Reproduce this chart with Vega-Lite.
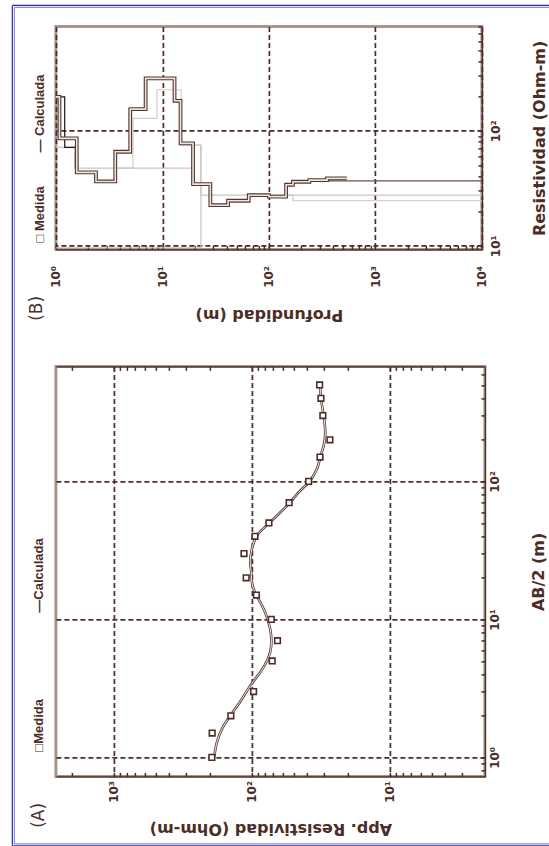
{
  "$schema": "https://vega.github.io/schema/vega-lite/v6.json",
  "background": "white",
  "padding": {"left": 9.9, "top": 2.4, "right": 0, "bottom": 0},
  "autosize": {"type": "pad"},
  "bounds": "flush",
  "spacing": 117,
  "config": {
    "view": {"stroke": "#a8958f", "strokeWidth": 3},
    "axis": {
      "labelFont": "DejaVu Sans", "labelFontWeight": "bold", "labelFontSize": 12, "labelColor": "#4b2d28",
      "titleFont": "DejaVu Sans", "titleFontWeight": "bold", "titleFontSize": 16, "titleColor": "#4b2d28",
      "tickColor": "#4b2d28", "tickWidth": 1.5, "domainColor": "#4b2d28", "domainWidth": 1.2,
      "gridColor": "#4b2d28", "gridDash": [5, 3], "gridWidth": 1.7, "labelOverlap": false
    }
  },
  "datasets": {
    "medida": [
      {"ab": 1, "rho": 195}, {"ab": 1.5, "rho": 194}, {"ab": 2, "rho": 142}, {"ab": 3, "rho": 97.2},
      {"ab": 5, "rho": 71.3}, {"ab": 7, "rho": 65.2}, {"ab": 10, "rho": 72.4}, {"ab": 15, "rho": 92.7},
      {"ab": 20, "rho": 110}, {"ab": 30, "rho": 114}, {"ab": 40, "rho": 95}, {"ab": 50, "rho": 75.3},
      {"ab": 70, "rho": 53.7}, {"ab": 100, "rho": 38.8}, {"ab": 150, "rho": 32.1}, {"ab": 200, "rho": 27.2},
      {"ab": 300, "rho": 30.6}, {"ab": 400, "rho": 31.6}, {"ab": 500, "rho": 32.3}
    ],
    "calculada": [
      {"ab": 1, "rho": 188}, {"ab": 1.28, "rho": 179.5}, {"ab": 1.6, "rho": 165}, {"ab": 2, "rho": 143.5},
      {"ab": 2.65, "rho": 118}, {"ab": 3.31, "rho": 102.7}, {"ab": 4.13, "rho": 87}, {"ab": 5.16, "rho": 76.6},
      {"ab": 6.45, "rho": 72.4}, {"ab": 8.5, "rho": 73.7}, {"ab": 11.2, "rho": 80.1}, {"ab": 14, "rho": 89.5},
      {"ab": 17.5, "rho": 98.9}, {"ab": 21.9, "rho": 101}, {"ab": 25.9, "rho": 102.8}, {"ab": 32.3, "rho": 100},
      {"ab": 40.4, "rho": 92}, {"ab": 49.4, "rho": 75.7}, {"ab": 69.3, "rho": 53.7}, {"ab": 83.2, "rho": 45.9},
      {"ab": 98.4, "rho": 38.8}, {"ab": 123, "rho": 33.8}, {"ab": 149, "rho": 32}, {"ab": 181, "rho": 30.2},
      {"ab": 227, "rho": 29.4}, {"ab": 299, "rho": 30.2}, {"ab": 395, "rho": 31.5}, {"ab": 480, "rho": 32}
    ],
    "banda": [
      {"prof": 1, "rho": 197}, {"prof": 1.08, "rho": 85.7}, {"prof": 1.57, "rho": 43.4}, {"prof": 2.38, "rho": 36.2},
      {"prof": 3.61, "rho": 65.6}, {"prof": 4.99, "rho": 154}, {"prof": 6.96, "rho": 285}, {"prof": 13, "rho": 182},
      {"prof": 14.8, "rho": 77.6}, {"prof": 19.4, "rho": 34.3}, {"prof": 28.2, "rho": 22.5}, {"prof": 41.4, "rho": 24.6},
      {"prof": 64.7, "rho": 27.5}, {"prof": 100, "rho": 26.7}, {"prof": 145, "rho": 33.9}, {"prof": 168, "rho": 36},
      {"prof": 240, "rho": 37.2}, {"prof": 352, "rho": 38.5}, {"prof": 538, "rho": 38.5}
    ],
    "modelos": [
      {"modelo": "G1", "prof": 1, "rho": 71.6}, {"modelo": "G1", "prof": 1.5, "rho": 47.3}, {"modelo": "G1", "prof": 19.4, "rho": 75},
      {"modelo": "G1", "prof": 23, "rho": 27.5}, {"modelo": "G1", "prof": 10000, "rho": 27.5},
      {"modelo": "G2", "prof": 1, "rho": 9.6}, {"modelo": "G2", "prof": 23, "rho": 75},
      {"modelo": "G3", "prof": 3.6, "rho": 47.3}, {"modelo": "G3", "prof": 5.3, "rho": 128}, {"modelo": "G3", "prof": 8.9, "rho": 227},
      {"modelo": "G3", "prof": 15, "rho": 75}, {"modelo": "G3", "prof": 23, "rho": 75},
      {"modelo": "G4", "prof": 100, "rho": 27.5}, {"modelo": "G4", "prof": 168, "rho": 24.6}, {"modelo": "G4", "prof": 10000, "rho": 24.6},
      {"modelo": "negro", "prof": 1, "rho": 197}, {"modelo": "negro", "prof": 1.21, "rho": 71.6}, {"modelo": "negro", "prof": 1.57, "rho": 71.6},
      {"modelo": "fino", "prof": 168, "rho": 36.7}, {"modelo": "fino", "prof": 10000, "rho": 36.7}
    ]
  },
  "vconcat": [
    {
      "width": 426,
      "height": 223,
      "resolve": {"axis": {"x": "independent", "y": "independent"}},
      "layer": [
        {
          "data": {"name": "modelos"},
          "mark": {"type": "line", "interpolate": "step-after", "strokeWidth": 1.2},
          "encoding": {
            "x": {
              "field": "prof", "type": "quantitative",
              "scale": {"type": "log", "domain": [1, 10000]},
              "axis": {
                "orient": "bottom",
                "values": [1,2,3,4,5,6,7,8,9,10,20,30,40,50,60,70,80,90,100,200,300,400,500,600,700,800,900,1000,2000,3000,4000,5000,6000,7000,8000,9000,10000],
                "labelExpr": "datum.value == 1 ? '10⁰' : datum.value == 10 ? '10¹' : datum.value == 100 ? '10²' : datum.value == 1000 ? '10³' : datum.value == 10000 ? '10⁴' : ''",
                "labelAngle": 270, "labelAlign": "right", "labelBaseline": "middle",
                "tickSize": -4, "labelPadding": 20,
                "grid": true,
                "gridOpacity": {"condition": {"test": "indexof([1,10,100,1000,10000], datum.value) >= 0", "value": 1}, "value": 0},
                "title": "Profundidad (m)", "titleAngle": 180, "titleBaseline": "middle", "titleY": 65
              }
            },
            "y": {
              "field": "rho", "type": "quantitative",
              "scale": {"type": "log", "domain": [9.29, 807]},
              "axis": {
                "orient": "right",
                "values": [10,20,30,40,50,60,70,80,90,100,200,300,400,500,600,700,800],
                "labelExpr": "datum.value == 10 ? '10¹' : datum.value == 100 ? '10²' : ''",
                "labelAngle": 270, "labelAlign": "center", "labelBaseline": "top",
                "tickSize": -4, "labelPadding": 13,
                "grid": true,
                "gridOpacity": {"condition": {"test": "indexof([1,10,100,1000,10000], datum.value) >= 0", "value": 1}, "value": 0},
                "title": "Resistividad (Ohm-m)", "titleAngle": 270, "titleBaseline": "middle", "titleX": 58
              }
            },
            "color": {
              "field": "modelo", "type": "nominal",
              "scale": {"domain": ["G1", "G2", "G3", "G4", "negro", "fino"], "range": ["#cbc3c1", "#cbc3c1", "#d3cccb", "#cbc3c1", "#1e1412", "#6b514c"]},
              "legend": null
            }
          }
        },
        {
          "data": {"name": "banda"},
          "mark": {"type": "line", "interpolate": "step-after", "strokeWidth": 3.8, "color": "#55362f"},
          "encoding": {
            "x": {"field": "prof", "type": "quantitative", "scale": {"type": "log", "domain": [1, 10000]}, "axis": null},
            "y": {"field": "rho", "type": "quantitative", "scale": {"type": "log", "domain": [9.29, 807]}, "axis": null}
          }
        },
        {
          "data": {"name": "banda"},
          "mark": {"type": "line", "interpolate": "step-after", "strokeWidth": 1.6, "color": "#ece4e2"},
          "encoding": {
            "x": {"field": "prof", "type": "quantitative", "scale": {"type": "log", "domain": [1, 10000]}, "axis": null},
            "y": {"field": "rho", "type": "quantitative", "scale": {"type": "log", "domain": [9.29, 807]}, "axis": null}
          }
        },
        {
          "data": {"values": [{}]},
          "mark": {"type": "text", "text": "□ Medida", "angle": 270, "align": "center", "baseline": "middle", "font": "Liberation Sans", "fontWeight": "bold", "fontSize": 13, "color": "#4b2d28"},
          "encoding": {
            "x": {"datum": 0.715, "type": "quantitative", "scale": {"type": "log", "domain": [1, 10000]}, "axis": null},
            "y": {"datum": 18.7, "type": "quantitative", "scale": {"type": "log", "domain": [9.29, 807]}, "axis": null}
          }
        },
        {
          "data": {"values": [{}]},
          "mark": {"type": "text", "text": "— Calculada", "angle": 270, "align": "center", "baseline": "middle", "font": "Liberation Sans", "fontWeight": "bold", "fontSize": 13, "color": "#4b2d28"},
          "encoding": {
            "x": {"datum": 0.715, "type": "quantitative", "scale": {"type": "log", "domain": [1, 10000]}, "axis": null},
            "y": {"datum": 141, "type": "quantitative", "scale": {"type": "log", "domain": [9.29, 807]}, "axis": null}
          }
        },
        {
          "data": {"values": [{}]},
          "mark": {"type": "text", "text": "(B)", "angle": 270, "align": "center", "baseline": "middle", "font": "DejaVu Sans", "fontSize": 17, "color": "#4b2d28"},
          "encoding": {
            "x": {"datum": 0.663, "type": "quantitative", "scale": {"type": "log", "domain": [1, 10000]}, "axis": null},
            "y": {"datum": 2.85, "type": "quantitative", "scale": {"type": "log", "domain": [9.29, 807]}, "axis": null}
          }
        },
        {
          "data": {"values": [{}]},
          "mark": {"type": "rule", "color": "#2a2ab5", "strokeWidth": 1.2},
          "encoding": {
            "x": {"datum": 0.39, "type": "quantitative", "scale": {"type": "log", "domain": [1, 10000]}, "axis": null},
            "x2": {"datum": 44460},
            "y": {"datum": 1229, "type": "quantitative", "scale": {"type": "log", "domain": [9.29, 807]}, "axis": null}
          }
        },
        {
          "data": {"values": [{}]},
          "mark": {"type": "rule", "color": "#8f88da", "strokeWidth": 1.2},
          "encoding": {
            "x": {"datum": 0.41, "type": "quantitative", "scale": {"type": "log", "domain": [1, 10000]}, "axis": null},
            "x2": {"datum": 44460},
            "y": {"datum": 1181, "type": "quantitative", "scale": {"type": "log", "domain": [9.29, 807]}, "axis": null}
          }
        }
      ]
    },
    {
      "width": 429,
      "height": 410,
      "resolve": {"axis": {"x": "independent", "y": "independent"}},
      "layer": [
        {
          "data": {"values": [{}]},
          "mark": {"type": "rule", "color": "#2a2ab5", "strokeWidth": 1.2},
          "encoding": {
            "x": {"datum": 5440, "type": "quantitative", "scale": {"type": "log", "domain": [2.05, 2630], "reverse": true}, "axis": null},
            "y": {"datum": 281000, "type": "quantitative", "scale": {"type": "log", "domain": [0.728, 681]}, "axis": null},
            "y2": {"datum": 0.2284}
          }
        },
        {
          "data": {"values": [{}]},
          "mark": {"type": "rule", "color": "#8f88da", "strokeWidth": 1.2},
          "encoding": {
            "x": {"datum": 5260, "type": "quantitative", "scale": {"type": "log", "domain": [2.05, 2630], "reverse": true}, "axis": null},
            "y": {"datum": 272200, "type": "quantitative", "scale": {"type": "log", "domain": [0.728, 681]}, "axis": null},
            "y2": {"datum": 0.2361}
          }
        },
        {
          "data": {"values": [{}]},
          "mark": {"type": "rule", "color": "#2a2ab5", "strokeWidth": 1.2},
          "encoding": {
            "x": {"datum": 5440, "type": "quantitative", "scale": {"type": "log", "domain": [2.05, 2630], "reverse": true}, "axis": null},
            "x2": {"datum": 0.681},
            "y": {"datum": 0.2284, "type": "quantitative", "scale": {"type": "log", "domain": [0.728, 681]}, "axis": null}
          }
        },
        {
          "data": {"values": [{}]},
          "mark": {"type": "rule", "color": "#8f88da", "strokeWidth": 1.2},
          "encoding": {
            "x": {"datum": 5260, "type": "quantitative", "scale": {"type": "log", "domain": [2.05, 2630], "reverse": true}, "axis": null},
            "x2": {"datum": 0.681},
            "y": {"datum": 0.2361, "type": "quantitative", "scale": {"type": "log", "domain": [0.728, 681]}, "axis": null}
          }
        },
        {
          "data": {"name": "calculada"},
          "mark": {"type": "line", "interpolate": "natural", "strokeWidth": 2.6, "color": "#5a3e3a"},
          "encoding": {
            "x": {
              "field": "rho", "type": "quantitative",
              "scale": {"type": "log", "domain": [2.05, 2630], "reverse": true},
              "axis": {
                "orient": "bottom",
                "values": [3,4,5,6,7,8,9,10,20,30,40,50,60,70,80,90,100,200,300,400,500,600,700,800,900,1000,2000],
                "labelExpr": "datum.value == 10 ? '10¹' : datum.value == 100 ? '10²' : datum.value == 1000 ? '10³' : ''",
                "labelAngle": 270, "labelAlign": "right", "labelBaseline": "middle",
                "tickSize": -4, "labelPadding": 8,
                "grid": true,
                "gridOpacity": {"condition": {"test": "indexof([1,10,100,1000,10000], datum.value) >= 0", "value": 1}, "value": 0},
                "title": "App. Resistividad (Ohm-m)", "titleAngle": 180, "titleBaseline": "middle", "titleY": 52
              }
            },
            "y": {
              "field": "ab", "type": "quantitative",
              "scale": {"type": "log", "domain": [0.728, 681]},
              "axis": {
                "orient": "right",
                "values": [0.8,0.9,1,2,3,4,5,6,7,8,9,10,20,30,40,50,60,70,80,90,100,200,300,400,500,600],
                "labelExpr": "datum.value == 1 ? '10⁰' : datum.value == 10 ? '10¹' : datum.value == 100 ? '10²' : ''",
                "labelAngle": 270, "labelAlign": "center", "labelBaseline": "top",
                "tickSize": -4, "labelPadding": 9,
                "grid": true,
                "gridOpacity": {"condition": {"test": "indexof([1,10,100,1000,10000], datum.value) >= 0", "value": 1}, "value": 0},
                "title": "AB/2 (m)", "titleAngle": 270, "titleBaseline": "middle", "titleX": 54
              }
            },
            "order": {"field": "ab", "type": "quantitative"}
          }
        },
        {
          "data": {"name": "calculada"},
          "mark": {"type": "line", "interpolate": "natural", "strokeWidth": 0.9, "color": "#ffffff"},
          "encoding": {
            "x": {"field": "rho", "type": "quantitative", "scale": {"type": "log", "domain": [2.05, 2630], "reverse": true}, "axis": null},
            "y": {"field": "ab", "type": "quantitative", "scale": {"type": "log", "domain": [0.728, 681]}, "axis": null},
            "order": {"field": "ab", "type": "quantitative"}
          }
        },
        {
          "data": {"name": "medida"},
          "mark": {"type": "point", "shape": "square", "filled": true, "fill": "white", "stroke": "#4b2d28", "strokeWidth": 1.6, "size": 32, "opacity": 1},
          "encoding": {
            "x": {
              "field": "rho", "type": "quantitative",
              "scale": {"type": "log", "domain": [2.05, 2630], "reverse": true},
              "axis": {
                "orient": "top",
                "values": [3,4,5,6,7,8,9,10,20,30,40,50,60,70,80,90,100,200,300,400,500,600,700,800,900,1000,2000],
                "labels": false, "tickSize": -4, "grid": false, "title": null
              }
            },
            "y": {"field": "ab", "type": "quantitative", "scale": {"type": "log", "domain": [0.728, 681]}, "axis": null}
          }
        },
        {
          "data": {"values": [{}]},
          "mark": {"type": "text", "text": "□Medida", "angle": 270, "align": "center", "baseline": "middle", "font": "Liberation Sans", "fontWeight": "bold", "fontSize": 13, "color": "#4b2d28"},
          "encoding": {
            "x": {"datum": 3495, "type": "quantitative", "scale": {"type": "log", "domain": [2.05, 2630], "reverse": true}, "axis": null},
            "y": {"datum": 1.706, "type": "quantitative", "scale": {"type": "log", "domain": [0.728, 681]}, "axis": null}
          }
        },
        {
          "data": {"values": [{}]},
          "mark": {"type": "text", "text": "—Calculada", "angle": 270, "align": "center", "baseline": "middle", "font": "Liberation Sans", "fontWeight": "bold", "fontSize": 13, "color": "#4b2d28"},
          "encoding": {
            "x": {"datum": 3495, "type": "quantitative", "scale": {"type": "log", "domain": [2.05, 2630], "reverse": true}, "axis": null},
            "y": {"datum": 20.8, "type": "quantitative", "scale": {"type": "log", "domain": [0.728, 681]}, "axis": null}
          }
        },
        {
          "data": {"values": [{}]},
          "mark": {"type": "text", "text": "(A)", "angle": 270, "align": "center", "baseline": "middle", "font": "DejaVu Sans", "fontSize": 17, "color": "#4b2d28"},
          "encoding": {
            "x": {"datum": 3495, "type": "quantitative", "scale": {"type": "log", "domain": [2.05, 2630], "reverse": true}, "axis": null},
            "y": {"datum": 0.38, "type": "quantitative", "scale": {"type": "log", "domain": [0.728, 681]}, "axis": null}
          }
        }
      ]
    }
  ]
}
